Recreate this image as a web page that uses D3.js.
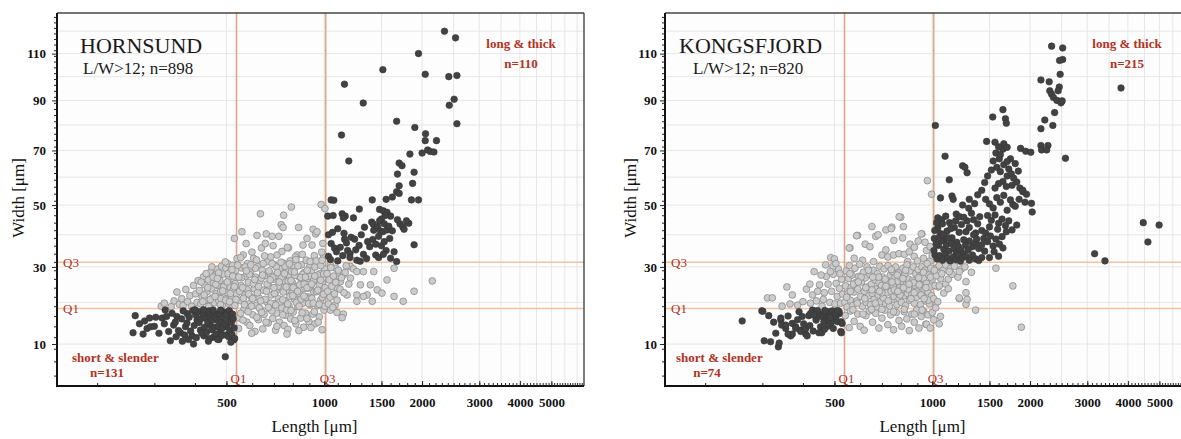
<!DOCTYPE html>
<html>
<head>
<meta charset="utf-8">
<script src="https://cdn.jsdelivr.net/npm/d3@7"></script>
<style>
body { margin: 0; background: #fff; }
svg text { font-family: "Liberation Serif", "Times New Roman", serif; }
</style>
</head>
<body>
<div id="chart"></div>
<script>
// axis ticks
const xTicks = [500, 1000, 1500, 2000, 3000, 4000, 5000];
const yTicks = [10, 30, 50, 70, 90, 110];
// quartiles of length and width [Q1, Q3]
const quartLength = [537, 1010];
const quartWidth = [18.4, 31.4];

// HORNSUND: [length, width] in µm
const hornsundShort = [
  [262,16.6],[258,12.5],[277,12.2],[280,15.3],[290,16.0],[303,16.2],[285,13.5],[292,13.9],[317,16.0],[324,18.0],
  [336,10.7],[332,12.8],[344,14.3],[352,16.4],[361,12.5],[374,13.9],[379,17.1],[396,10.0],[392,11.8],[406,15.5],
  [416,13.1],[426,11.8],[436,17.1],[446,14.3],[456,11.5],[467,15.5],[479,12.8],[491,17.5],[502,13.9],[514,16.4],
  [496,7.4],[526,10.9],[340,17.2],[348,15.0],[356,13.0],[364,15.8],[368,17.8],[372,12.0],[378,14.8],[384,16.2],
  [388,12.9],[394,17.9],[398,14.2],[402,16.8],[404,11.4],[410,17.6],[412,14.9],[418,15.9],[420,12.4],[424,17.0],
  [428,13.8],[430,16.0],[434,12.6],[438,15.0],[442,17.8],[444,11.2],[448,16.5],[450,13.2],[452,15.6],[458,17.3],
  [460,13.8],[462,16.2],[464,12.2],[470,17.0],[472,14.0],[474,11.0],[476,16.9],[482,15.0],[484,11.9],[486,13.6],
  [488,16.3],[494,14.6],[498,12.0],[500,16.9],[505,15.2],[508,11.6],[510,17.9],[512,13.0],[518,14.9],[520,12.1],
  [522,17.0],[524,15.8],[528,13.6],[530,11.2],[480,18.0],[455,18.0],[425,18.1],[400,18.1],[382,11.0],[366,10.6],
  [470,11.0],[440,10.6],[516,10.4],[350,11.6],[300,14.0],[310,12.4],[322,14.6],[327,16.4],[270,14.6]
];
const hornsundLong = [
  [2344,120],[2535,117],[1950,110],[2045,101],[2417,100],[2560,100.5],[1515,103],[1154,96.8],[1318,88.9],[2510,90.5],
  [2425,88],[2560,80.5],[1670,81.5],[1900,79],[2050,76.5],[2045,73.8],[2215,73.8],[1130,76],[1190,66],[2000,69],
  [2080,70.2],[2120,69.6],[2175,69.4],[1835,68.6],[1890,61.8],[1700,65.2],[1735,64.2],[1680,61.1],[1870,57.7],[1700,56.8],
  [1670,54.7],[1700,54.1],[1405,51.8],[1050,51.8],[1070,51.7],[1282,48.6],[1550,52],[1620,52.8],[1855,51.8],[1950,51.8],
  [1025,46.2],[1065,46.4],[1135,47],[1160,46.2],[1145,45.6],[1230,45.6],[1480,48.5],[1520,48],[1560,47.5],[1600,46.2],
  [1540,46.4],[1500,45.2],[1820,43.8],[1790,44.6],[1710,43.6],[1745,42.6],[1760,41.8],[1680,45.0],[1890,36.8],
  [1400,44.2],[1420,41.5],[1415,43.5],[1460,42.6],[1490,41.2],[1480,44.6],[1530,43.6],[1515,41.0],[1560,41.6],[1580,42.8],
  [1620,41.3],[1410,38.5],[1440,37.0],[1470,39.5],[1500,36.5],[1530,37.8],[1550,35.0],[1590,38.8],[1640,34.6],[1440,33.6],
  [1470,32.8],[1520,33.8],[1670,31.6],[1600,32.6],[1380,36.2],
  [1030,40.0],[1060,40.8],[1100,42.0],[1150,40.5],[1155,38.6],[1210,39.2],[1240,38.6],[1300,40.0],[1075,35.8],[1120,36.0],
  [1180,35.0],[1200,34.0],[1250,35.2],[1320,33.8],[1090,34.6],[1140,33.4],[1030,33.2],[1045,32.2],[1200,32.8],[1260,32.0],
  [1290,31.7],[1350,32.5],[1170,37.4],[1050,37.2],[1100,31.8],[1280,36.6],[1360,37.8],[1330,42.5]
];
const hornsundMid = [
  [636,47.0],[792,49.3],[750,46.5],[978,50.2],[1005,48.8],[558,41.0],[529,38.8],[575,37.2],[621,39.8],[663,40.3],
  [691,39.5],[725,39.5],[737,43.3],[747,42.4],[834,42.4],[885,38.8],[924,41.8],[941,40.3],[950,41.0],[563,33.6],
  [606,32.6],[641,35.8],[659,37.2],[696,36.5],[716,33.6],[741,34.7],[776,35.8],[825,33.6],[860,36.7],[917,36.7],
  [990,37.2],[994,33.6],
  [315,19.0],[322,19.8],[338,18.9],[345,20.4],[352,22.8],[358,19.5],[364,21.0],[368,19.2],[375,23.5],[380,20.2],
  [386,21.8],[391,19.0],[396,24.6],[402,22.3],[406,20.0],[409,26.0],[413,23.2],[417,19.6],[421,21.4],[425,27.1],
  [428,24.8],[432,20.6],[436,22.9],[440,26.2],[443,19.1],[447,28.5],[450,23.7],[453,21.2],[456,25.4],[459,19.9],
  [462,27.6],[465,22.4],[468,29.3],[471,24.6],[474,20.4],[477,26.1],[480,23.0],[483,30.2],[486,19.3],[489,27.9],
  [492,21.8],[495,25.0],[498,29.6],[501,22.7],[504,31.0],[507,19.8],[510,26.9],[513,24.1],[516,28.8],[519,21.2],
  [522,30.4],[525,23.5],[528,26.0],[531,19.2],[534,29.0],[537,22.3],[539,32.5],
  [545,13.5],[548,16.0],[551,20.5],[554,24.6],[557,29.7],[566,18.2],[569,22.0],[572,27.2],[578,15.0],[581,31.0],
  [584,25.5],[587,19.6],[590,14.2],[593,28.3],[596,21.5],[599,34.5],[603,16.8],[609,23.7],[612,12.8],[615,27.0],
  [618,19.2],[624,30.1],[627,15.6],[630,21.2],[633,25.8],[638,18.0],[644,29.0],[647,13.4],[650,23.3],[653,16.9],
  [656,27.4],[666,20.1],[669,31.6],[672,14.8],[675,24.5],[678,18.4],[681,28.1],[684,33.0],[687,22.0],[694,15.9],
  [699,26.4],[702,19.6],[705,30.5],[708,13.1],[711,23.0],[714,17.2],[719,27.5],[722,21.0],[728,15.0],[731,29.5],
  [734,24.2],[740,18.6],[746,31.2],[752,14.2],[755,26.0],[758,20.4],[761,16.7],[764,29.0],[767,23.0],[770,36.0],
  [773,13.3],[779,19.0],[782,27.2],[785,31.8],[788,15.8],[795,22.5],[798,25.4],[802,17.5],[806,29.9],[810,20.8],
  [814,33.0],[818,14.6],[822,24.3],[829,18.9],[838,27.0],[842,22.2],[846,16.0],[850,30.6],[854,25.5],[858,19.8],
  [864,13.8],[868,28.3],[872,23.8],[876,17.2],[880,32.0],[889,21.5],[893,26.6],[897,15.1],[901,30.0],[905,19.4],
  [909,24.5],[913,28.7],[921,17.0],[928,22.8],[932,33.4],[936,14.6],[945,26.0],[954,19.2],[958,30.8],[962,23.6],
  [966,16.3],[970,28.0],[974,20.6],[982,34.5],[986,25.4],[998,18.0],[1002,29.4],[1008,22.0],
  [418,25.6],[427,22.0],[438,24.0],[446,20.8],[455,27.0],[464,24.9],[473,28.2],[481,21.0],[490,24.2],[497,20.6],
  [506,28.0],[514,22.4],[523,27.3],[532,25.1],[542,30.5],[549,23.0],[556,26.8],[564,21.1],[571,30.0],[579,23.5],
  [588,27.8],[597,19.0],[605,25.1],[614,29.6],[623,22.6],[631,18.6],[640,26.7],[649,31.0],[658,20.8],[667,25.0],
  [676,28.8],[685,19.8],[694,26.9],[703,22.4],[712,30.0],[721,24.4],[730,20.1],[739,27.0],[748,22.8],[757,30.2],
  [766,18.0],[775,25.8],[784,21.6],[793,28.6],[803,24.0],[812,27.5],[821,20.0],[830,30.3],[840,24.8],[849,20.9],
  [858,27.8],[867,25.0],[877,21.3],[886,29.0],[896,23.9],[906,27.2],[916,21.1],[926,26.0],[936,30.0],[946,22.9],
  [956,27.6],[966,24.8],[976,30.4],[986,21.4],[996,27.9],[1006,24.0],
  [553,17.2],[562,15.5],[583,17.6],[598,12.4],[620,16.2],[642,17.4],[662,15.0],[690,17.8],[715,14.0],[745,16.8],
  [768,12.2],[790,17.9],[812,15.4],[835,13.0],[855,17.3],[884,15.9],[910,13.7],[932,17.6],[958,15.0],[985,13.2],
  [423,20.2],[433,28.0],[441,18.9],[451,30.0],[461,21.6],[469,26.6],[479,19.4],[487,23.1],[496,31.5],[503,25.6],
  [511,20.2],[520,29.2],[529,24.3],[535,20.8],[546,27.0],[553,32.8],[561,24.0],[568,19.4],[576,28.8],[585,22.3],
  [594,30.6],[602,21.0],[611,26.3],[619,32.1],[628,24.3],[637,20.4],[646,27.6],[655,33.3],[664,23.0],[673,18.7],
  [682,26.2],[691,31.0],[700,24.0],[709,19.3],[718,28.3],[727,25.6],[736,31.4],[745,20.7],[754,28.0],[763,24.2],
  [772,19.6],[781,30.9],[790,26.0],[800,21.8],[809,28.5],[818,32.2],[828,23.0],[837,19.0],[847,26.9],[856,33.8],
  [866,21.7],[875,27.0],[885,24.0],[895,19.7],[905,31.6],[915,25.0],[925,19.8],[935,27.3],[945,31.8],[955,23.3],
  [965,19.5],[975,26.1],[985,32.0],[995,22.2],[1005,19.0],
  [1045,30.6],[1085,29.6],[1110,28.2],[1145,27.7],[1204,30.1],[1230,29.4],[1260,28.6],[1320,28.6],[1420,28.6],[1204,26.7],
  [1292,24.8],[1387,24.8],[1355,22.0],[1260,22.0],[1260,20.3],[1175,22.0],[1320,21.6],[1405,20.3],[1455,23.4],[1505,22.5],
  [1640,21.6],[1560,26.2],[1640,29.6],[1750,20.3],[1890,23.0],[2150,25.9],[1095,17.4],[1145,17.0],[1135,16.1],[1045,18.0],
  [1080,19.3],[1060,22.0],[1095,23.9],[1070,26.7],[1121,25.7],[1160,28.4],
  [1020,28.0],[1025,23.0],[1030,19.6],[1036,26.2],[1042,21.4],[1048,29.8],[1055,24.4],[1062,18.7],[1068,27.3],[1075,22.3],
  [1085,25.5],[1095,20.6],[1105,29.0],[1118,23.6],[1130,26.8],[1150,22.6],[1168,30.3],[1190,25.0]
];

// KONGSFJORD: [length, width] in µm
const kongsShort = [
  [260,15.3],[299,17.8],[301,17.7],[314,16.6],[304,10.7],[318,10.5],[336,9.4],[338,10.2],[342,15.5],[344,14.3],
  [342,16.0],[354,13.5],[354,14.3],[367,11.8],[371,14.7],[371,12.2],[380,13.9],[380,13.5],[394,13.1],[394,12.8],
  [389,17.6],[398,16.4],[408,12.2],[408,13.5],[412,11.8],[417,16.6],[422,17.1],[428,18.0],[439,15.5],[439,16.0],
  [448,17.1],[448,16.6],[448,12.5],[453,13.9],[457,12.5],[459,16.3],[464,15.1],[470,17.1],[475,16.0],[481,15.5],
  [481,17.6],[487,14.7],[493,16.6],[493,17.8],[499,15.4],[505,16.3],[511,15.1],[517,17.1],[517,17.6],[523,12.8],
  [525,12.5],[524,15.1],[528,14.7],[503,17.2],[486,16.2],[467,17.9],[443,17.9],[432,16.8],[476,14.0],[512,17.9],
  [360,16.5],[325,15.0],[330,12.4],[360,12.2],[385,15.6],[402,14.6],[420,14.2],[430,12.9],[496,13.5],[466,13.3]
];
const kongsLong = [
  [2330,113.3],[2520,112.5],[2520,107.4],[2465,107],[2475,101],[2160,98.6],[2290,97.8],[2300,94.0],[2330,92.6],[2360,91.2],
  [2420,90.0],[2460,95.6],[2440,94.0],[2490,89],[2510,89.8],[2380,85],[2220,82],[2160,78.5],[2350,79.8],[2160,71.9],
  [2270,71.9],[2570,67],[3810,95.2],[1022,79.8],[1535,83.2],[1650,86.2],[1680,82.5],[1690,80.7],
  [1470,73.5],[1560,73.2],[1650,70.5],[1660,72.6],[1700,71.2],
  [1870,70.8],[1940,69.7],[2010,69.3],[2170,70.2],[2250,70.2],[1800,65.0],[1740,66.8],[1608,66.8],
  [1095,67.8],[1240,64.2],[1260,63.6],[1280,61.6],[1128,59],[1060,52.5],[1150,53.2],[1160,52.0],[1185,46.9],[1040,45.6],
  [1070,45.0],[1100,46.2],[1295,48.9],[2030,47.6],[1770,50.2],[1900,54.7],[1950,53.8],
  [4460,44],[4990,43.2],[4610,37.7],[3160,34],[3400,31.8],
  [1580,63.6],[1620,62.0],[1660,64.6],[1700,60.4],[1720,63.0],[1750,61.2],[1650,58.4],[1600,57.6],[1560,56.0],[1690,56.6],
  [1760,57.0],[1820,58.2],[1860,56.0],[1900,55.2],[1780,59.6],[1840,62.2],[1700,65.8],
  [1460,52.0],[1500,50.4],[1540,49.0],[1580,52.6],[1620,51.0],[1660,53.4],[1700,48.2],[1740,51.8],[1800,49.6],[1850,52.0],
  [1930,51.0],[2020,50.6],[1480,46.4],[1520,44.8],[1560,46.6],[1600,43.8],[1640,45.2],[1680,43.0],[1720,44.6],[1760,41.6],
  [1820,43.2],[1690,41.0],[1590,41.8],[1500,42.6],
  [1280,44.6],[1300,42.4],[1320,47.2],[1340,45.0],[1360,40.6],[1380,43.6],[1400,46.0],[1420,41.4],[1440,38.8],[1460,40.6],
  [1300,38.0],[1330,36.2],[1360,37.4],[1390,35.6],[1420,36.8],[1450,34.8],[1480,37.8],[1510,39.6],[1540,36.4],[1570,38.6],
  [1610,37.0],[1640,39.4],[1550,34.6],[1600,33.2],[1500,32.8],[1650,35.8],
  [1040,42.2],[1060,40.4],[1075,43.6],[1090,38.6],[1110,41.2],[1130,44.0],[1150,39.0],[1170,42.4],[1190,37.6],[1210,40.8],
  [1230,43.4],[1250,38.4],[1270,41.0],[1045,36.6],[1065,38.0],[1085,35.4],[1105,36.8],[1125,34.8],[1145,37.2],[1165,35.6],
  [1185,34.2],[1205,36.2],[1225,35.0],[1245,34.0],[1265,36.6],[1290,35.2],[1340,40.0],[1370,38.6],
  [1020,33.6],[1035,32.4],[1055,33.4],[1075,32.0],[1095,33.8],[1115,32.6],[1135,31.8],[1160,33.0],[1180,32.2],[1200,33.6],
  [1220,31.7],[1240,32.8],[1270,33.2],[1300,32.0],[1330,33.6],[1360,32.4],[1390,31.9],[1420,32.8],
  [1012,35.0],[1015,38.8],[1018,41.4],[1028,37.0],[1032,44.0],[1050,39.2],[1080,40.0],[1120,39.0],[1140,42.0],[1180,44.6],
  [1215,46.0],[1250,45.8],[1240,50.0],[1300,52.0],[1350,50.5],[1380,53.6],[1420,55.2],[1450,58.0],[1480,60.4],[1520,62.6],
  [1540,66.0],[1570,69.0],[1600,71.4],[1620,68.4]
];
const kongsMid = [
  [800,45.8],[652,42.7],[720,41.6],[751,42.5],[815,42.7],[589,39.8],[670,39.5],[681,40.0],[762,38.2],[810,39.0],
  [929,40.3],[558,35.8],[622,37.0],[643,36.2],[854,37.0],[881,36.0],[700,33.6],[730,33.0],[760,33.6],[790,34.0],
  [820,33.8],[850,34.6],[880,33.2],[966,58.7],[995,53.8],[791,46.0],[748,42.0],[585,39.7],[555,35.8],[925,40.3],
  [487,32.8],[500,32.4],[900,31.8],[940,32.6],[960,35.0],[985,31.8],[610,32.0],[575,32.6],[660,31.6],[720,35.2],
  [840,31.6],[905,38.0],[950,37.6],[985,36.2],[1000,33.4],
  [311,21.2],[322,21.2],[357,24.2],[371,22.0],[385,19.3],[400,20.2],[422,19.8],[428,22.0],[433,28.6],[472,27.2],
  [345,19.0],[365,19.6],[410,23.6],[440,20.4],[450,24.8],[458,19.0],[465,22.6],[478,25.0],[484,20.0],[490,23.0],
  [496,27.8],[502,19.6],[506,25.2],[510,21.6],[514,29.4],[518,23.8],[522,19.8],[526,26.4],[530,22.2],[470,30.6],
  [495,30.2],[505,31.0],[455,27.6],[486,28.6],[520,28.0],[462,20.8],[444,23.0],[420,25.0],
  [538,20.0],[541,24.5],[544,28.8],[547,18.8],[550,22.4],[553,26.6],[556,30.4],[560,20.6],[563,24.0],[566,27.6],
  [570,19.2],[574,22.8],[578,29.6],[582,25.4],[586,20.4],[590,23.6],[594,27.2],[598,30.8],
  [602,21.6],[606,25.6],[610,19.0],[614,28.4],[618,23.0],[622,26.8],[626,20.0],[630,30.0],[634,24.2],[638,21.8],
  [642,27.8],[646,19.4],[650,25.0],[654,22.4],[658,29.0],[662,20.8],[666,26.2],[670,23.6],[674,18.8],[678,28.0],
  [682,22.0],[686,25.4],[690,30.2],[694,20.2],[698,24.6],
  [703,27.0],[707,21.2],[711,29.4],[715,23.8],[719,19.6],[723,26.0],[727,22.6],[731,30.4],[735,25.0],[739,19.0],
  [743,27.6],[747,23.0],[751,20.8],[755,28.6],[759,24.4],[763,21.6],[767,26.8],[771,30.0],[775,22.8],[779,19.4],
  [783,25.8],[787,28.2],[791,21.0],[795,24.0],[799,27.0],
  [804,20.0],[808,23.4],[812,29.6],[816,25.6],[820,21.8],[824,27.8],[828,19.2],[832,24.8],[836,30.6],[840,22.4],
  [845,26.4],[850,20.6],[855,28.8],[860,24.0],[865,22.0],[870,26.0],[875,30.0],[880,19.8],[885,24.6],[890,28.0],
  [895,21.4],[900,25.8],
  [905,29.2],[910,22.6],[915,27.2],[920,19.4],[925,24.8],[930,30.0],[935,21.8],[940,26.6],[945,23.4],[950,29.0],
  [955,20.4],[960,25.2],[965,31.0],[970,22.8],[975,27.6],[980,19.6],[985,24.2],[990,29.6],[995,21.8],[1000,26.4],
  [545,21.4],[558,28.0],[572,25.0],[588,19.8],[604,27.0],[620,21.0],[636,29.0],[652,23.4],[668,19.8],[684,27.0],
  [700,22.6],[716,26.4],[732,20.4],[748,29.2],[764,23.4],[780,27.6],[796,22.0],[812,26.6],[828,29.0],[844,23.6],
  [860,21.0],[876,25.4],[892,23.0],[908,26.8],[924,22.0],[940,28.4],[956,24.0],[972,20.6],[988,27.0],[560,23.0],
  [592,25.6],[624,24.0],[656,27.0],[688,23.0],[720,24.4],[752,25.6],[784,23.0],[816,24.0],[848,25.0],[880,22.6],
  [912,24.8],[944,21.0],
  [540,16.6],[555,13.7],[560,17.8],[575,15.2],[590,17.0],[600,14.0],[617,13.1],[625,16.6],[640,17.8],[655,15.0],
  [670,17.2],[685,13.6],[700,16.0],[715,18.0],[730,14.4],[745,16.8],[760,13.2],[775,17.4],[790,15.4],[805,14.0],
  [820,17.6],[835,15.8],[850,13.0],[865,17.0],[880,15.0],[895,18.0],[910,13.6],[925,16.4],[940,17.8],[955,14.5],
  [960,14.5],[970,16.8],[985,13.6],[1000,17.4],[570,18.1],[612,17.0],[650,18.2],[700,18.2],[760,17.6],[820,18.2],
  [880,17.0],[930,18.0],
  [1037,29.8],[1050,30.4],[1080,29.0],[1100,30.6],[1140,29.6],[1170,30.2],[1230,29.4],[1260,30.0],[1570,29.6],[1044,24.2],
  [1060,26.6],[1085,22.5],[1100,25.0],[1211,21.0],[1270,19.5],[1280,20.8],[1270,22.6],[1360,18.0],[1770,24.5],[1880,13.8],
  [1010,21.0],[1020,24.6],[1025,18.6],[1030,27.4],[1015,29.0],[1040,20.2],[1060,16.4],[1070,28.0],[1120,26.4],[1150,27.8],
  [1200,27.0],[1320,28.4],[1050,14.6],[1010,15.6],[1128,28.6],[1211,28.6],[1270,25.7],[1051,24.5],[1120,23.7],[1211,21.2]
];

const width = 1181;
const height = 439;
const plotW = 527;
const plotH = 373;
const plotTop = 13;

const svg = d3.select("#chart").append("svg")
    .attr("width", width)
    .attr("height", height);

const x = d3.scaleLog().domain([150.5, 6300]).range([0, plotW]);
const y = d3.scalePow().exponent(0.7).domain([2.42, 128.3]).range([plotH, 0]);

const red = "#b2321f";

const panels = [
    {
        left: 57, title: "HORNSUND", sub: "L/W>12; n=898",
        short: hornsundShort, long: hornsundLong, mid: hornsundMid,
        nShort: "n=131", nLong: "n=110",
        titleX: 23, subX: 26, shortX: 15, nShortX: 50, longX: 464, yPad: 6, yLabelX: 18
    },
    {
        left: 665, title: "KONGSFJORD", sub: "L/W>12; n=820",
        short: kongsShort, long: kongsLong, mid: kongsMid,
        nShort: "n=74", nLong: "n=215",
        titleX: 14, subX: 28, shortX: 11, nShortX: 42, longX: 462, yPad: 3, yLabelX: 630
    }
];

panels.forEach(drawPanel);

function drawPanel(p) {
    const g = svg.append("g").attr("transform", `translate(${p.left},${plotTop})`);

    g.append("rect")
        .attr("width", plotW)
        .attr("height", plotH)
        .attr("fill", "#fdfdfd");

    // grid lines
    g.selectAll(".hgrid")
        .data(d3.range(10, 130, 10))
        .enter().append("line")
        .attr("x1", 0).attr("x2", plotW)
        .attr("y1", d => y(d)).attr("y2", d => y(d))
        .attr("stroke", "#e6e6e6").attr("stroke-width", 1);

    g.selectAll(".vgrid")
        .data(d3.range(500, 6500, 500))
        .enter().append("line")
        .attr("x1", d => x(d)).attr("x2", d => x(d))
        .attr("y1", 0).attr("y2", plotH)
        .attr("stroke", "#e6e6e6").attr("stroke-width", 1);

    // quartile lines
    g.selectAll(".qh")
        .data(quartWidth)
        .enter().append("line")
        .attr("x1", 0).attr("x2", plotW)
        .attr("y1", d => y(d)).attr("y2", d => y(d))
        .attr("stroke", "#f0c4a4").attr("stroke-width", 1.6);

    g.selectAll(".qv")
        .data(quartLength)
        .enter().append("line")
        .attr("x1", d => x(d)).attr("x2", d => x(d))
        .attr("y1", 0).attr("y2", plotH)
        .attr("stroke", "#dfa587").attr("stroke-width", 1.6);

    // points: middle group first, then the dark groups on top
    g.selectAll(".mid")
        .data(p.mid)
        .enter().append("circle")
        .attr("cx", d => x(d[0]))
        .attr("cy", d => y(d[1]))
        .attr("r", 3.4)
        .attr("fill", "#cbcbcb")
        .attr("stroke", "#8c8c8c")
        .attr("stroke-width", 0.8);

    g.selectAll(".dark")
        .data(p.short.concat(p.long))
        .enter().append("circle")
        .attr("cx", d => x(d[0]))
        .attr("cy", d => y(d[1]))
        .attr("r", 3.3)
        .attr("fill", "#424242")
        .attr("stroke", "#363636")
        .attr("stroke-width", 0.6);

    // quartile labels
    g.selectAll(".qhl")
        .data(["Q1", "Q3"])
        .enter().append("text")
        .attr("x", 6)
        .attr("y", (d, i) => y(quartWidth[i]))
        .attr("dy", "0.35em")
        .attr("font-size", 13)
        .attr("fill", red)
        .text(d => d);

    g.selectAll(".qvl")
        .data(["Q1", "Q3"])
        .enter().append("text")
        .attr("x", (d, i) => x(quartLength[i]) + 2)
        .attr("y", plotH - 3)
        .attr("text-anchor", "middle")
        .attr("font-size", 13)
        .attr("fill", red)
        .text(d => d);

    // frame
    g.append("line").attr("x1", 0).attr("x2", plotW).attr("y1", 0).attr("y2", 0)
        .attr("stroke", "#444").attr("stroke-width", 1.4);
    g.append("line").attr("x1", plotW).attr("x2", plotW).attr("y1", 0).attr("y2", plotH)
        .attr("stroke", "#444").attr("stroke-width", 1.4);
    g.append("line").attr("x1", 0).attr("x2", 0).attr("y1", 0).attr("y2", plotH + 1)
        .attr("stroke", "#111").attr("stroke-width", 2);
    g.append("line").attr("x1", -1).attr("x2", plotW).attr("y1", plotH).attr("y2", plotH)
        .attr("stroke", "#111").attr("stroke-width", 2);

    // y axis
    const yMinor = g.append("g")
        .call(d3.axisLeft(y).tickValues(d3.range(4, 128, 2.5)).tickSize(3).tickFormat(""));
    const yMajor = g.append("g")
        .call(d3.axisLeft(y).tickValues(yTicks).tickSize(5).tickPadding(p.yPad));
    [yMinor, yMajor].forEach(a => {
        a.select(".domain").remove();
        a.selectAll("line").attr("stroke", "#222");
    });
    yMajor.selectAll("text")
        .attr("font-size", 13)
        .attr("font-weight", "bold")
        .attr("fill", "#111")
        .style("font-family", "'Liberation Serif', serif");

    // x axis, ticks pointing inward
    const xMinor = g.append("g")
        .attr("transform", `translate(0,${plotH})`)
        .call(d3.axisBottom(x).tickValues(d3.range(200, 6300, 100)).tickSize(-3).tickFormat(""));
    const xMajor = g.append("g")
        .attr("transform", `translate(0,${plotH})`)
        .call(d3.axisBottom(x).tickValues(xTicks).tickSize(-5).tickPadding(12).tickFormat(d3.format("d")));
    [xMinor, xMajor].forEach(a => {
        a.select(".domain").remove();
        a.selectAll("line").attr("stroke", "#222");
    });
    xMajor.selectAll("text")
        .attr("font-size", 13)
        .attr("font-weight", "bold")
        .attr("fill", "#111")
        .style("font-family", "'Liberation Serif', serif");

    // titles and annotations
    g.append("text")
        .attr("x", p.titleX).attr("y", 40)
        .attr("font-size", 22).attr("fill", "#1a1a1a")
        .text(p.title);
    g.append("text")
        .attr("x", p.subX).attr("y", 61)
        .attr("font-size", 17).attr("fill", "#1a1a1a")
        .text(p.sub);

    g.append("text")
        .attr("x", p.longX).attr("y", 35)
        .attr("text-anchor", "middle")
        .attr("font-size", 13).attr("font-weight", "bold").attr("fill", red)
        .text("long & thick");
    g.append("text")
        .attr("x", p.longX).attr("y", 55)
        .attr("text-anchor", "middle")
        .attr("font-size", 13).attr("font-weight", "bold").attr("fill", red)
        .text(p.nLong);

    g.append("text")
        .attr("x", p.shortX).attr("y", 349)
        .attr("font-size", 13).attr("font-weight", "bold").attr("fill", red)
        .text("short & slender");
    g.append("text")
        .attr("x", p.nShortX).attr("y", 364)
        .attr("text-anchor", "middle")
        .attr("font-size", 13).attr("font-weight", "bold").attr("fill", red)
        .text(p.nShort);

    // axis titles
    g.append("text")
        .attr("x", plotW / 2 - 6)
        .attr("y", plotH + 46)
        .attr("text-anchor", "middle")
        .attr("font-size", 17).attr("fill", "#111")
        .text("Length [μm]");

    svg.append("text")
        .attr("transform", `translate(${p.yLabelX + 6},198) rotate(-90)`)
        .attr("text-anchor", "middle")
        .attr("font-size", 17).attr("fill", "#111")
        .text("Width [μm]");
}
</script>
</body>
</html>
